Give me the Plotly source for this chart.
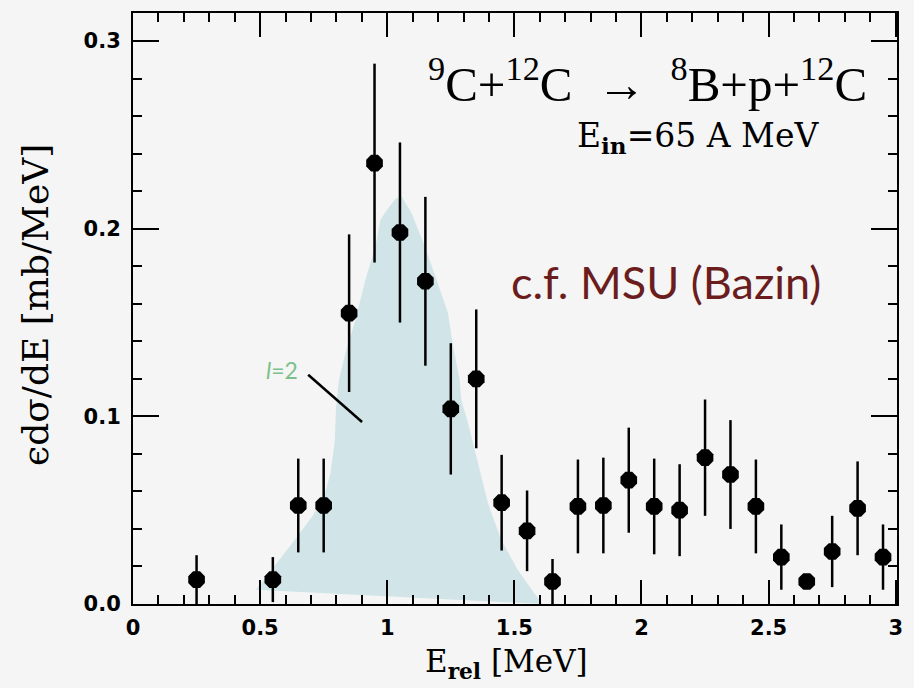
import plotly.graph_objects as go

# ---- data ----
e_rel = [0.25, 0.55, 0.65, 0.75, 0.85, 0.95, 1.05, 1.15, 1.25, 1.35, 1.45, 1.55, 1.65,
         1.75, 1.85, 1.95, 2.05, 2.15, 2.25, 2.35, 2.45, 2.55, 2.65, 2.75, 2.85, 2.95]
xsec = [0.013, 0.013, 0.0525, 0.0525, 0.155, 0.235, 0.198, 0.172, 0.104, 0.120, 0.054, 0.039, 0.012,
        0.052, 0.0525, 0.066, 0.052, 0.050, 0.078, 0.069, 0.052, 0.025, 0.012, 0.028, 0.051, 0.025]
xsec_err = [0.013, 0.012, 0.025, 0.025, 0.042, 0.053, 0.048, 0.045, 0.035, 0.037, 0.0255, 0.0215, 0.012,
            0.025, 0.0255, 0.028, 0.0255, 0.0245, 0.031, 0.029, 0.025, 0.0174, 0.0, 0.019, 0.025, 0.0174]

# l=2 calculation (shaded band outline)
l2_x = [0.484, 0.536, 0.627, 0.705, 0.751, 0.777, 0.794, 0.798, 0.810, 0.836, 0.875, 0.914, 0.953,
        0.973, 0.992, 1.031, 1.057, 1.096, 1.148, 1.194, 1.239, 1.259, 1.285, 1.291, 1.318, 1.357,
        1.396, 1.448, 1.513, 1.578, 1.611, 0.484]
l2_y = [0.0076, 0.0165, 0.0325, 0.0467, 0.0573, 0.0698, 0.0875, 0.1035, 0.1195, 0.1339, 0.1515, 0.1728, 0.1905,
        0.2047, 0.2087, 0.2159, 0.2172, 0.2083, 0.1905, 0.1728, 0.155, 0.1372, 0.1195, 0.1088, 0.0964, 0.0751,
        0.0538, 0.0343, 0.0183, 0.0059, 0.0, 0.0076]

pointer_x = [0.689, 0.901]
pointer_y = [0.1222, 0.097]

x_ticks = [0, 0.5, 1, 1.5, 2, 2.5, 3]
x_ticklabels = ["0", "0.5", "1", "1.5", "2", "2.5", "3"]
y_ticks = [0.0, 0.1, 0.2, 0.3]
y_ticklabels = ["0.0", "0.1", "0.2", "0.3"]

BG = "#f5f5f5"
SERIF = "DejaVu Serif"
TICKFONT = dict(family="DejaVu Sans", size=21, color="black")

fig = go.Figure()

fig.add_trace(go.Scatter(
    x=l2_x, y=l2_y, mode="lines", fill="toself",
    fillcolor="#d1e5e8", line=dict(width=0, color="#d1e5e8"),
    hoverinfo="skip", showlegend=False))

fig.add_trace(go.Scatter(
    x=e_rel, y=xsec, mode="markers",
    marker=dict(symbol="octagon", size=18, color="black", line=dict(width=0)),
    error_y=dict(type="data", array=xsec_err, visible=True, color="black",
                 thickness=2.5, width=0),
    showlegend=False))

fig.add_shape(type="line", x0=pointer_x[0], y0=pointer_y[0], x1=pointer_x[1], y1=pointer_y[1],
              xref="x", yref="y", line=dict(color="black", width=2.5))

axis_common = dict(
    showline=True, linecolor="black", linewidth=2, mirror="allticks",
    ticks="inside", tickcolor="black", tickwidth=2,
    showgrid=False, zeroline=False,
)

fig.update_xaxes(
    range=[0, 3.005], tickvals=x_ticks, ticktext=["<b>%s</b>" % t for t in x_ticklabels], ticklen=24,
    tickfont=TICKFONT,
    minor=dict(dtick=0.1, tick0=0, ticklen=9, tickcolor="black", tickwidth=2, ticks="inside"),
    ticklabelstandoff=4,
    **axis_common)
fig.update_yaxes(
    range=[0, 0.315], tickvals=y_ticks, ticktext=["<b>%s</b>" % t for t in y_ticklabels], ticklen=26,
    tickfont=TICKFONT,
    minor=dict(dtick=0.02, tick0=0, ticklen=9, tickcolor="black", tickwidth=2, ticks="inside"),
    ticklabelstandoff=6,
    **axis_common)

annotations = [
    dict(text="<sup>9</sup>C+<sup>12</sup>C  →  <sup>8</sup>B+p+<sup>12</sup>C",
         x=0.673, y=0.885, xref="paper", yref="paper", showarrow=False,
         font=dict(family="Liberation Serif", size=49, color="black"), xanchor="center", yanchor="middle"),
    dict(text="E<sub><b>in</b></sub>=65 A MeV",
         x=0.739, y=0.790, xref="paper", yref="paper", showarrow=False,
         font=dict(family=SERIF, size=33, color="black"), xanchor="center", yanchor="middle"),
    dict(text="c.f. MSU (Bazin)",
         x=0.697, y=0.544, xref="paper", yref="paper", showarrow=False,
         font=dict(family="Lato", size=45, color="#6b1d1d"), xanchor="center", yanchor="middle"),
    dict(text="<i>l</i>=2",
         x=0.587, y=0.1248, xref="x", yref="y", showarrow=False,
         font=dict(family="Lato", size=23, color="#7cc18c"), xanchor="center", yanchor="middle"),
    dict(text="ϵdσ/dE [mb/MeV]", textangle=-90,
         x=-0.127, y=0.506, xref="paper", yref="paper", showarrow=False,
         font=dict(family=SERIF, size=36, color="black"), xanchor="center", yanchor="middle"),
    dict(text="E<sub><b>rel</b></sub> [MeV]",
         x=0.489, y=-0.101, xref="paper", yref="paper", showarrow=False,
         font=dict(family=SERIF, size=31, color="black"), xanchor="center", yanchor="middle"),
]

fig.update_layout(
    width=914, height=688,
    margin=dict(l=133, r=11, t=13, b=84, pad=0),
    paper_bgcolor=BG, plot_bgcolor=BG,
    annotations=annotations,
    showlegend=False,
)

fig.write_html("out.html")
